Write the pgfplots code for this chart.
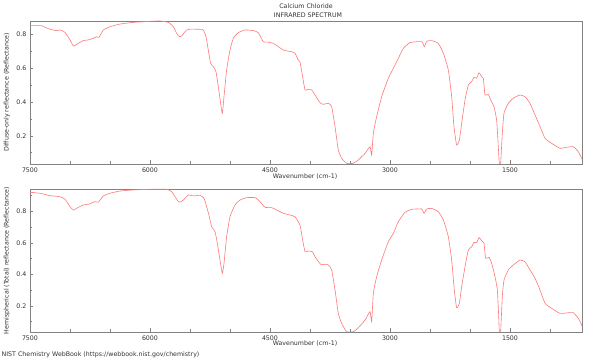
\documentclass[border=0pt]{standalone}
\usepackage{pgfplots}
\pgfplotsset{compat=1.18}
\usepackage{pgfplotstable}
\usepackage{fontspec}
\setmainfont{DejaVu Sans}
\definecolor{spec}{RGB}{255,120,120}
\definecolor{framec}{RGB}{130,130,130}
\definecolor{txt}{RGB}{50,50,50}
\pgfplotstableread{
wn R
7500 0.852
7354 0.851
7312 0.842
7250 0.830
7167 0.822
7125 0.826
7062 0.812
7000 0.767
6958 0.731
6917 0.741
6833 0.763
6771 0.767
6708 0.777
6667 0.786
6637 0.782
6583 0.826
6500 0.845
6375 0.861
6208 0.871
6000 0.877
5875 0.879
5771 0.871
5708 0.845
5667 0.806
5633 0.786
5604 0.790
5562 0.816
5521 0.830
5375 0.830
5333 0.826
5300 0.786
5271 0.707
5242 0.629
5208 0.609
5175 0.579
5146 0.490
5117 0.392
5096 0.333
5075 0.431
5042 0.589
5000 0.707
4958 0.777
4896 0.810
4812 0.826
4708 0.822
4646 0.810
4583 0.757
4500 0.753
4437 0.741
4333 0.707
4229 0.697
4187 0.688
4146 0.648
4125 0.638
4092 0.549
4062 0.471
4021 0.475
3979 0.471
3937 0.441
3875 0.396
3833 0.386
3771 0.392
3729 0.372
3687 0.254
3646 0.116
3604 0.067
3542 0.037
3458 0.037
3396 0.057
3312 0.096
3250 0.135
3229 0.086
3208 0.215
3167 0.313
3104 0.431
3021 0.540
2958 0.599
2896 0.658
2833 0.717
2750 0.751
2604 0.757
2571 0.727
2542 0.759
2479 0.763
2396 0.747
2333 0.688
2271 0.589
2229 0.431
2200 0.254
2167 0.145
2133 0.175
2104 0.274
2062 0.412
2021 0.500
1979 0.520
1950 0.546
1917 0.540
1887 0.573
1854 0.549
1833 0.540
1812 0.441
1771 0.445
1742 0.412
1700 0.372
1667 0.293
1646 0.135
1633 0.034
1617 0.034
1596 0.215
1575 0.333
1521 0.392
1458 0.422
1375 0.441
1312 0.431
1250 0.392
1187 0.323
1133 0.264
1062 0.185
979 0.155
875 0.126
792 0.132
708 0.135
646 0.106
600 0.062
}\topdata
\pgfplotstableread{
wn R
7500 0.920
7375 0.914
7250 0.899
7125 0.892
7062 0.876
7000 0.829
6958 0.808
6896 0.825
6833 0.840
6771 0.844
6687 0.861
6646 0.857
6583 0.897
6500 0.914
6375 0.928
6208 0.935
6000 0.939
5792 0.939
5729 0.924
5687 0.892
5637 0.857
5583 0.871
5521 0.903
5458 0.897
5375 0.901
5325 0.882
5292 0.829
5258 0.765
5229 0.702
5187 0.670
5158 0.597
5125 0.491
5096 0.407
5075 0.470
5042 0.639
5000 0.765
4937 0.840
4875 0.871
4792 0.886
4687 0.886
4625 0.861
4562 0.825
4479 0.823
4417 0.808
4333 0.787
4250 0.776
4187 0.765
4125 0.713
4092 0.618
4062 0.544
4021 0.548
3971 0.544
3937 0.512
3867 0.464
3812 0.464
3771 0.460
3729 0.428
3687 0.301
3646 0.153
3604 0.090
3542 0.037
3458 0.037
3396 0.062
3312 0.111
3250 0.164
3229 0.100
3208 0.280
3167 0.385
3104 0.491
3021 0.607
2958 0.660
2896 0.734
2812 0.793
2729 0.812
2604 0.814
2575 0.787
2542 0.814
2479 0.818
2396 0.797
2333 0.745
2271 0.639
2229 0.491
2196 0.301
2167 0.189
2133 0.217
2104 0.322
2062 0.449
2021 0.554
1979 0.575
1950 0.603
1917 0.601
1887 0.633
1854 0.613
1825 0.597
1804 0.502
1762 0.508
1729 0.470
1687 0.385
1658 0.301
1641 0.132
1633 0.036
1617 0.036
1596 0.259
1575 0.364
1521 0.428
1458 0.460
1375 0.491
1312 0.480
1250 0.428
1187 0.375
1133 0.312
1062 0.217
979 0.185
875 0.153
771 0.157
708 0.157
646 0.122
600 0.075
}\botdata
\pgfplotsset{
  myax/.style={
    scale only axis, width=552bp, height=143bp, anchor=south west,
    x dir=reverse, xmin=600, xmax=7500,
    xtick={7500,6000,4500,3000,1500},
    minor xtick={7000,6500,5500,5000,4000,3500,2500,2000,1000},
    ytick={0.2,0.4,0.6,0.8},
    minor ytick={0.1,0.3,0.5,0.7,0.9},
    tick align=inside, xtick pos=lower, ytick pos=left,
    axis line style={framec, line width=0.6bp},
    every tick/.style={framec, line width=0.5bp},
    major tick length=3.5bp, minor tick length=2.5bp,
    ticklabel style={font=\fontsize{6.3}{7}\selectfont, text=txt},
    /pgf/number format/assume math mode=true,
    /pgf/number format/1000 sep={},
    yticklabel style={/pgf/number format/fixed, /pgf/number format/precision=1, /pgf/number format/fixed zerofill},
  }
}
\begin{document}
\begin{tikzpicture}
\path (0,0) rectangle (600bp,360bp);
\begin{axis}[myax, at={(30bp,196bp)}, ymin=0.033, ymax=0.879]
\addplot[spec, line width=0.6bp, smooth, tension=0.3] table[x=wn,y=R] {\topdata};
\end{axis}
\begin{axis}[myax, at={(30bp,28bp)}, ymin=0.035, ymax=0.941]
\addplot[spec, line width=0.6bp, smooth, tension=0.3] table[x=wn,y=R] {\botdata};
\end{axis}
\begin{scope}[every node/.style={inner sep=0pt, text=txt, font=\fontsize{6.3}{7}\selectfont}]
\node at (306bp,354bp) {Calcium Chloride};
\node at (308bp,345bp) {INFRARED SPECTRUM};
\node at (305bp,183bp) {Wavenumber (cm-1)};
\node at (305bp,16bp) {Wavenumber (cm-1)};
\node[rotate=90] at (7bp,267.5bp) {Diffuse-only reflectance (Reflectance)};
\node[rotate=90] at (7bp,99.5bp) {Hemispherical (Total) reflectance (Reflectance)};
\node[anchor=west] at (1.5bp,5bp) {NIST Chemistry WebBook (https://webbook.nist.gov/chemistry)};
\end{scope}
\end{tikzpicture}
\end{document}
